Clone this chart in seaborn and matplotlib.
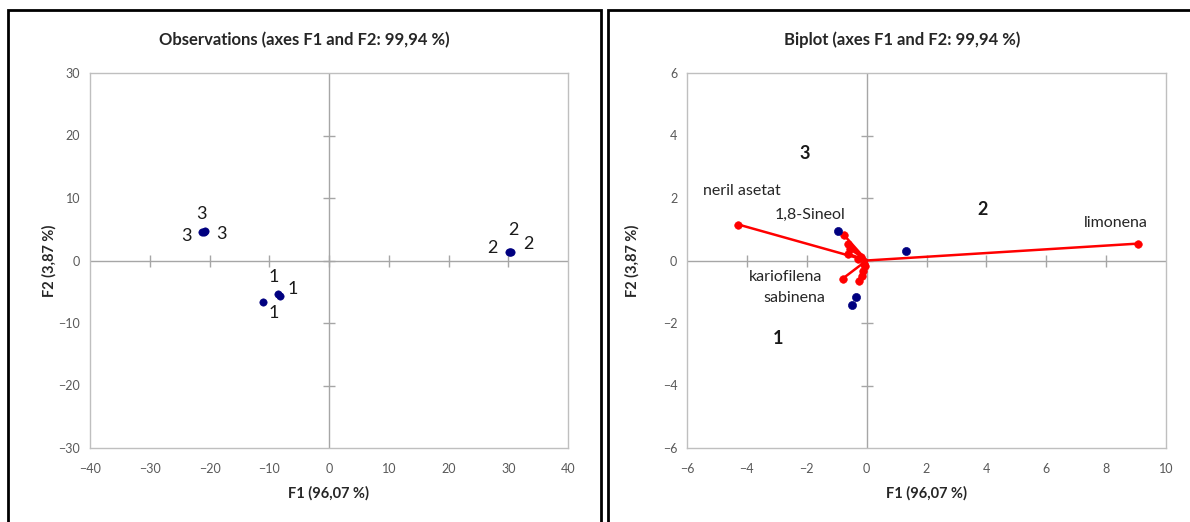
import matplotlib
matplotlib.use("Agg")
import matplotlib.pyplot as plt
from matplotlib.patches import Rectangle
import seaborn as sns
import pandas as pd

# --- data ---
obs_f1 = [-8.2, -8.6, -11.0, -21.3, -20.8, -21.0, 30.3, 30.2, 30.4]
obs_f2 = [-5.6, -5.4, -6.6, 4.6, 4.7, 4.6, 1.4, 1.4, 1.3]
obs_labels = ["1", "1", "1", "3", "3", "3", "2", "2", "2"]

bi_obs_f1 = [-0.94, 1.30, -0.37, -0.50]
bi_obs_f2 = [0.96, 0.29, -1.18, -1.41]

var_names = ["limonena", "neril asetat", "1,8-Sineol", "kariofilena", "sabinena",
             "v6", "v7", "v8", "v9", "v10", "v11", "v12", "v13", "v14"]
var_f1 = [9.05, -4.28, -0.77, -0.80, -0.27,
          -0.63, -0.57, -0.63, -0.17, -0.13, -0.05, -0.20, -0.10, -0.30]
var_f2 = [0.54, 1.15, 0.83, -0.58, -0.67,
          0.54, 0.38, 0.22, -0.48, -0.32, -0.16, 0.10, -0.10, 0.05]
shown_vars = ["limonena", "neril asetat", "1,8-Sineol", "kariofilena", "sabinena"]

group_names = ["1", "2", "3"]
group_f1 = [-2.97, 3.87, -2.07]
group_f2 = [-2.50, 1.63, 3.42]

left_xticks = [-40, -30, -20, -10, 0, 10, 20, 30, 40]
left_yticks = [-30, -20, -10, 0, 10, 20, 30]
right_xticks = [-6, -4, -2, 0, 2, 4, 6, 8, 10]
right_yticks = [-6, -4, -2, 0, 2, 4, 6]

# label offsets in pixels (styling only)
obs_offsets = [(13, 6), (-4, 17), (10, -11), (0, 18), (-18, -5), (18, -2), (3, 22), (-17, 4), (18, 8)]
var_offsets = {"limonena": (-22, 21), "neril asetat": (3, 34), "1,8-Sineol": (-34, 20),
               "kariofilena": (-57, 2), "sabinena": (-64, -17)}

NAVY = "#000080"
RED = "#ff0000"
GRID = "#bfbfbf"
AXLINE = "#a6a6a6"
TICKTXT = "#595959"

sns.set_style("white")
plt.rcParams['font.family'] = ['Lato', 'DejaVu Sans']

W, H = 1190, 522
fig = plt.figure(figsize=(W / 100, H / 100), dpi=100)

# panel frames
fig.add_artist(Rectangle((8 / W, -0.02), (601 - 8) / W, 1 - 10 / H + 0.02,
                         transform=fig.transFigure, fill=False, lw=2, ec="black"))
fig.add_artist(Rectangle((608 / W, -0.02), (1192 - 608) / W, 1 - 10 / H + 0.02,
                         transform=fig.transFigure, fill=False, lw=2, ec="black"))

ax1 = fig.add_axes([90 / W, (H - 448) / H, 478 / W, 375 / H])
ax2 = fig.add_axes([687 / W, (H - 448) / H, 479 / W, 375 / H])


def style_axes(ax, xt, yt, title, title_x, ylab_x):
    ax.set_xlim(xt[0], xt[-1])
    ax.set_ylim(yt[0], yt[-1])
    ax.set_xticks(xt)
    ax.set_yticks(yt)
    ax.tick_params(axis="x", length=0, pad=11, labelsize=9, labelcolor=TICKTXT)
    ax.tick_params(axis="y", length=0, pad=7, labelsize=9, labelcolor=TICKTXT)
    for s in ax.spines.values():
        s.set_color(GRID)
        s.set_linewidth(1)
    ax.axhline(0, color=AXLINE, lw=1, zorder=1)
    ax.axvline(0, color=AXLINE, lw=1, zorder=1)
    # crossing tick marks on the zero lines
    ax.plot(xt[1:-1], [0] * (len(xt) - 2), ls="none", marker="|", ms=8, mew=1, color=AXLINE, zorder=1)
    ax.plot([0] * (len(yt) - 2), yt[1:-1], ls="none", marker="_", ms=8, mew=1, color=AXLINE, zorder=1)
    ax.set_title(title, fontsize=12, fontweight="bold", x=title_x, pad=20)
    ax.set_xlabel("F1 (96,07 %)", fontsize=10.5, fontweight="bold", labelpad=8)
    ax.set_ylabel("F2 (3,87 %)", fontsize=10.5, fontweight="bold")
    ax.yaxis.set_label_coords(ylab_x, 0.5)


# left: observations
obs = pd.DataFrame({"F1": obs_f1, "F2": obs_f2, "label": obs_labels})
sns.scatterplot(data=obs, x="F1", y="F2", ax=ax1, color=NAVY, s=28, edgecolor=NAVY, zorder=3)
for (x, y, lab), off in zip(zip(obs_f1, obs_f2, obs_labels), obs_offsets):
    ax1.annotate(lab, (x, y), xytext=off, textcoords="offset pixels",
                 ha="center", va="center", fontsize=13, color="#1a1a1a")
style_axes(ax1, left_xticks, left_yticks, "Observations (axes F1 and F2: 99,94 %)",
           (304 - 90) / 478, (57 - 90) / 478)

# right: biplot
rows = []
for n, x, y in zip(var_names, var_f1, var_f2):
    rows.append({"var": n, "F1": 0.0, "F2": 0.0})
    rows.append({"var": n, "F1": x, "F2": y})
vec = pd.DataFrame(rows)
sns.lineplot(data=vec, x="F1", y="F2", units="var", estimator=None, sort=False,
             color=RED, lw=1.8, ax=ax2, zorder=2)
tips = pd.DataFrame({"F1": var_f1, "F2": var_f2})
sns.scatterplot(data=tips, x="F1", y="F2", ax=ax2, color=RED, s=30, edgecolor=RED, zorder=3)
bi = pd.DataFrame({"F1": bi_obs_f1, "F2": bi_obs_f2})
sns.scatterplot(data=bi, x="F1", y="F2", ax=ax2, color=NAVY, s=34, edgecolor=NAVY, zorder=4)
for n, x, y in zip(var_names, var_f1, var_f2):
    if n in shown_vars:
        ax2.annotate(n, (x, y), xytext=var_offsets[n], textcoords="offset pixels",
                     ha="center", va="center", fontsize=11.5, color="#262626")
for g, x, y in zip(group_names, group_f1, group_f2):
    ax2.text(x, y, g, ha="center", va="center", fontsize=13, fontweight="bold", color="#1a1a1a")
style_axes(ax2, right_xticks, right_yticks, "Biplot (axes F1 and F2: 99,94 %)",
           (902 - 687) / 479, (640 - 687) / 479)

fig.savefig("out.png", dpi=100)
